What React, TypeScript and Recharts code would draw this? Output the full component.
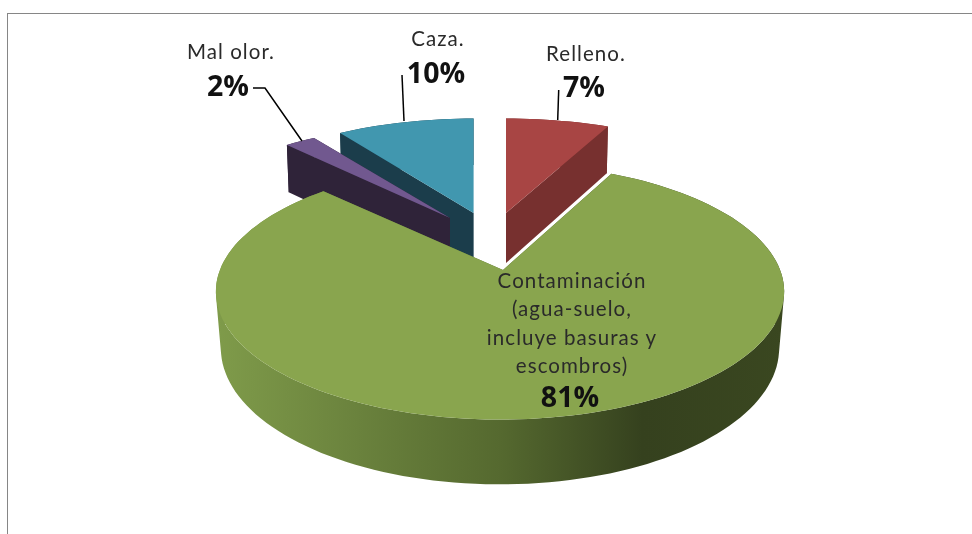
import React from "react";
import { PieChart, Pie } from "recharts";

// Data, in drawing order (counter-clockwise from the top) so nearer slices paint last
const categories = ["Caza.", "Mal olor.", "Contaminación", "Relleno."];
const values = [9.5, 2.1, 81.4, 7.0];
const labelLines = [["Caza."], ["Mal olor."], ["Contaminación", "(agua-suelo,", "incluye basuras y", "escombros)"], ["Relleno."]];
const topColors = ["#4197af", "#71588f", "#89a54e", "#a84544"];
const wallColors = ["#1b3d4b", "#2f2339", "url(#greenWall)", "#77302f"];

const pieData = categories.map((name, i) => ({ name, value: values[i], idx: i }));

type Geo = { ax: number; ay: number; ox: number; oy: number; R: number; S: number; k: number; bdy: number; bR: number; bS: number };
const BACK = { R: 275, S: 110, k: 0.165, bdy: 50, bR: 272, bS: 114 };
// Offsets from the pie centre for each slice (explosion + perspective)
const geometry: Geo[] = [
  { ax: -16.4, ay: 0, ox: -16.4, oy: 0, ...BACK, R: 270, bR: 267 },
  { ax: -40, ay: 5, ox: -40, oy: 5, ...BACK },
  { ax: 13, ay: 57, ox: 10, oy: 67, R: 283, S: 127, k: 0.09, bdy: 56, bR: 278, bS: 135 },
  { ax: 16, ay: 0, ox: 16, oy: 0, ...BACK },
];

const CX = 490;
const CY = 213;

const labelPos = [
  { nameX: 438, nameY: 46, pctX: 436, pctY: 83, lead: [[404, 121], [402, 75]] },
  { nameX: 231, nameY: 59, pctX: 228, pctY: 96, lead: [[302, 141], [265, 88], [253, 88]] },
  { nameX: 572, nameY: 288, pctX: 570, pctY: 407, lead: [] as number[][] },
  { nameX: 586, nameY: 61, pctX: 584, pctY: 97, lead: [[557.7, 120], [558.7, 90]] },
];
const LINE_STEP = 28.4;
const FONT = "Lato, 'Noto Sans', sans-serif";
const BOLD_FONT = "'Open Sans', Lato, sans-serif";

function rim(g: Geo, angle: number, cx: number, cy: number, bottom: boolean): [number, number] {
  const t = ((90 - angle) * Math.PI) / 180;
  const u = Math.sin(t);
  const v = Math.cos(t);
  const w = 1 + g.k * v;
  const R = bottom ? g.bR : g.R;
  const S = bottom ? g.bS : g.S;
  const oy = cy + g.oy + (bottom ? g.bdy : 0);
  return [cx + g.ox + (R * u) / w, oy - (S * v) / w];
}

function arcPoints(g: Geo, a0: number, a1: number, cx: number, cy: number, bottom: boolean) {
  const n = Math.max(4, Math.ceil(Math.abs(a1 - a0) / 2));
  const pts: [number, number][] = [];
  for (let i = 0; i <= n; i++) pts.push(rim(g, a0 + ((a1 - a0) * i) / n, cx, cy, bottom));
  return pts;
}

const toPath = (pts: number[][]) => "M" + pts.map((p) => `${p[0].toFixed(1)},${p[1].toFixed(1)}`).join("L") + "Z";

function quad(a: number[], b: number[], c: number[], d: number[]) {
  const pts = [a, b, c, d];
  let area = 0;
  for (let i = 0; i < 4; i++) {
    const p = pts[i];
    const q = pts[(i + 1) % 4];
    area += p[0] * q[1] - q[0] * p[1];
  }
  return toPath(area < 0 ? pts.reverse() : pts);
}

function Slice3D(props: any) {
  const { cx, cy, startAngle, endAngle, payload } = props;
  const idx = payload?.idx ?? props.idx;
  const g = geometry[idx];
  const top = arcPoints(g, startAngle, endAngle, cx, cy, false);
  const bot = arcPoints(g, startAngle, endAngle, cx, cy, true);
  const A: [number, number] = [cx + g.ax, cy + g.ay];
  const Ab: [number, number] = [cx + g.ax, cy + g.ay + 50];
  const wall = wallColors[idx];
  const strips = top.slice(0, -1).map((p, i) => quad(p, top[i + 1], bot[i + 1], bot[i])).join("");
  return (
    <g>
      {idx === 2 && (
        <defs>
          <linearGradient id="greenWall" gradientUnits="userSpaceOnUse" x1="216" y1="0" x2="785" y2="0">
            <stop offset="0" stopColor="#7f9b4a" />
            <stop offset="0.25" stopColor="#6a823d" />
            <stop offset="0.5" stopColor="#55692f" />
            <stop offset="0.75" stopColor="#35411e" />
            <stop offset="1" stopColor="#3a4720" />
          </linearGradient>
        </defs>
      )}
      <path d={strips} fill={wall} />
      <path d={toPath([A, top[0], bot[0], Ab])} fill={wall} />
      <path d={toPath([A, top[top.length - 1], bot[bot.length - 1], Ab])} fill={wall} />
      <path d={toPath([A, ...top])} fill={topColors[idx]} />
    </g>
  );
}

function SliceLabel(props: any) {
  const { payload, percent } = props;
  const idx = payload?.idx ?? props.idx;
  const pos = labelPos[idx];
  const lines = labelLines[idx];
  return (
    <g>
      {pos.lead.length > 0 && (
        <polyline
          points={pos.lead.map((p) => p.join(",")).join(" ")}
          fill="none"
          stroke="#000"
          strokeWidth={1.5}
        />
      )}
      <text textAnchor="middle" fontFamily={FONT} fontSize={20.5} letterSpacing={1.05} fill="#2a2a2a">
        {lines.map((l, i) => (
          <tspan key={i} x={pos.nameX} y={pos.nameY + i * LINE_STEP}>
            {l}
          </tspan>
        ))}
      </text>
      <text x={pos.pctX} y={pos.pctY} textAnchor="middle" fontFamily={BOLD_FONT} fontWeight={700} fontSize={28.5} fill="#111">
        {Math.round(percent * 100)}%
      </text>
    </g>
  );
}

export default function App() {
  return (
    <div style={{ position: "absolute", left: 0, top: 0, width: 972, height: 534, overflow: "hidden", background: "#fff" }}>
      <div
        style={{
          position: "absolute",
          left: 7,
          top: 13,
          right: 0,
          bottom: 0,
          borderTop: "1px solid #868686",
          borderLeft: "1px solid #868686",
        }}
      />
      <div style={{ position: "absolute", left: 0, top: 0, filter: "blur(0.4px)" }}>
        <PieChart width={972} height={534} margin={{ top: 0, right: 0, bottom: 0, left: 0 }}>
          <Pie
            data={pieData}
            dataKey="value"
            nameKey="name"
            cx={CX}
            cy={CY}
            outerRadius={100}
            startAngle={90}
            endAngle={450}
            stroke="none"
            isAnimationActive={false}
            shape={Slice3D as any}
            label={SliceLabel as any}
            labelLine={false}
          />
        </PieChart>
      </div>
    </div>
  );
}
